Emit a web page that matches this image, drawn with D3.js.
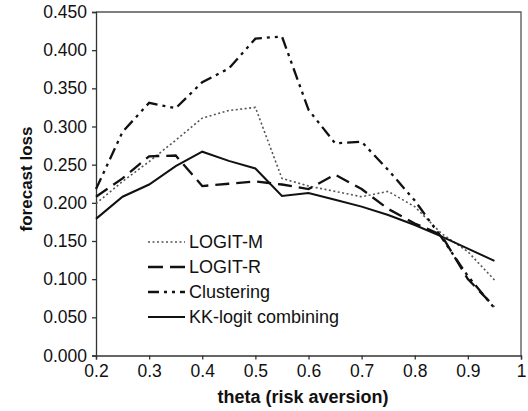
<!DOCTYPE html>
<html>
<head>
<meta charset="utf-8">
<script src="https://cdn.jsdelivr.net/npm/d3@7"></script>
<style>
  body { margin: 0; background: #fff; }
  svg { display: block; font-family: "Liberation Sans", Arial, sans-serif; }
</style>
</head>
<body>
<svg id="chart" width="528" height="411"></svg>
<script>
// data
var theta = [0.2, 0.25, 0.3, 0.35, 0.4, 0.45, 0.5, 0.55, 0.6, 0.65, 0.7, 0.75, 0.8, 0.85, 0.9, 0.95];
var logitM = [0.199, 0.228, 0.254, 0.282, 0.311, 0.321, 0.325, 0.232, 0.222, 0.215, 0.208, 0.215, 0.195, 0.160, 0.136, 0.099];
var logitR = [0.208, 0.232, 0.261, 0.262, 0.222, 0.225, 0.228, 0.224, 0.218, 0.237, 0.218, 0.192, 0.173, 0.158, 0.100, 0.064];
var clustering = [0.218, 0.293, 0.331, 0.324, 0.358, 0.376, 0.415, 0.418, 0.322, 0.278, 0.280, 0.243, 0.203, 0.155, 0.104, 0.062];
var kkLogit = [0.179, 0.208, 0.224, 0.248, 0.267, 0.255, 0.245, 0.209, 0.213, 0.204, 0.195, 0.184, 0.171, 0.156, 0.140, 0.124];

var seriesNames = ["LOGIT-M", "LOGIT-R", "Clustering", "KK-logit combining"];
var xTicks = [0.2, 0.3, 0.4, 0.5, 0.6, 0.7, 0.8, 0.9, 1];
var yTicks = [0, 0.05, 0.1, 0.15, 0.2, 0.25, 0.3, 0.35, 0.4, 0.45];

var svg = d3.select("#chart");
var plotL = 96, plotR = 521, plotT = 12, plotB = 355.5;

var x = d3.scaleLinear().domain([0.2, 1]).range([plotL, plotR]);
var y = d3.scaleLinear().domain([0, 0.45]).range([plotB, plotT]);

// frame (top + right)
svg.append("path")
    .attr("d", "M" + plotL + "," + plotT + "H" + plotR + "V" + plotB)
    .attr("fill", "none")
    .attr("stroke", "#555")
    .attr("stroke-width", 1.3);

// axes
var yAxis = svg.append("g")
    .attr("transform", "translate(" + plotL + ",0)")
    .call(d3.axisLeft(y).tickValues(yTicks).tickFormat(d3.format(".3f")).tickSize(4).tickPadding(5));
var xAxis = svg.append("g")
    .attr("transform", "translate(0," + plotB + ")")
    .call(d3.axisBottom(x).tickValues(xTicks).tickFormat(function (d) { return d === 1 ? "1" : d3.format(".1f")(d); }).tickSize(4).tickPadding(5));

[xAxis, yAxis].forEach(function (g) {
    g.select(".domain").attr("stroke", "#333").attr("stroke-width", 1.3);
    g.selectAll(".tick line").attr("stroke", "#333").attr("stroke-width", 1.3);
    g.selectAll(".tick text").attr("fill", "#111").style("font-size", "17.5px")
        .style("font-family", "'Liberation Sans', Arial, sans-serif");
});

// axis titles
svg.append("text")
    .attr("x", 303).attr("y", 403)
    .attr("text-anchor", "middle")
    .style("font-size", "18px").style("font-weight", "bold")
    .attr("fill", "#111")
    .text("theta (risk aversion)");
svg.append("text")
    .attr("transform", "translate(32,179) rotate(-90)")
    .attr("text-anchor", "middle")
    .style("font-size", "17px").style("font-weight", "bold")
    .attr("fill", "#111")
    .text("forecast loss");

// line styles
var styles = [
    { values: logitM, dash: "2,2.5", width: 1.6, color: "#555" },
    { values: logitR, dash: "14,7", width: 2.3, color: "#111" },
    { values: clustering, dash: "12,5,3,5,3,5", width: 2.3, color: "#111" },
    { values: kkLogit, dash: null, width: 2, color: "#111" }
];

var line = d3.line()
    .x(function (d, i) { return x(theta[i]); })
    .y(function (d) { return y(d); });

svg.append("g").selectAll("path").data(styles).enter()
    .append("path")
    .attr("d", function (d) { return line(d.values); })
    .attr("fill", "none")
    .attr("stroke", function (d) { return d.color; })
    .attr("stroke-width", function (d) { return d.width; })
    .attr("stroke-dasharray", function (d) { return d.dash; });

// legend
var legend = svg.append("g").attr("transform", "translate(148,242)");
var rowH = 25;
var rows = legend.selectAll("g").data(styles).enter()
    .append("g")
    .attr("transform", function (d, i) { return "translate(0," + i * rowH + ")"; });
rows.append("line")
    .attr("x1", 0).attr("x2", 37)
    .attr("y1", 0).attr("y2", 0)
    .attr("stroke", function (d) { return d.color; })
    .attr("stroke-width", function (d) { return d.width; })
    .attr("stroke-dasharray", function (d, i) { return i === 1 ? "15,7" : (i === 2 ? "11,5,3,5,3,5" : d.dash); });
rows.append("text")
    .attr("x", 41).attr("y", 0)
    .attr("dy", "0.36em")
    .style("font-size", "18px")
    .attr("fill", "#111")
    .text(function (d, i) { return seriesNames[i]; });
</script>
</body>
</html>
